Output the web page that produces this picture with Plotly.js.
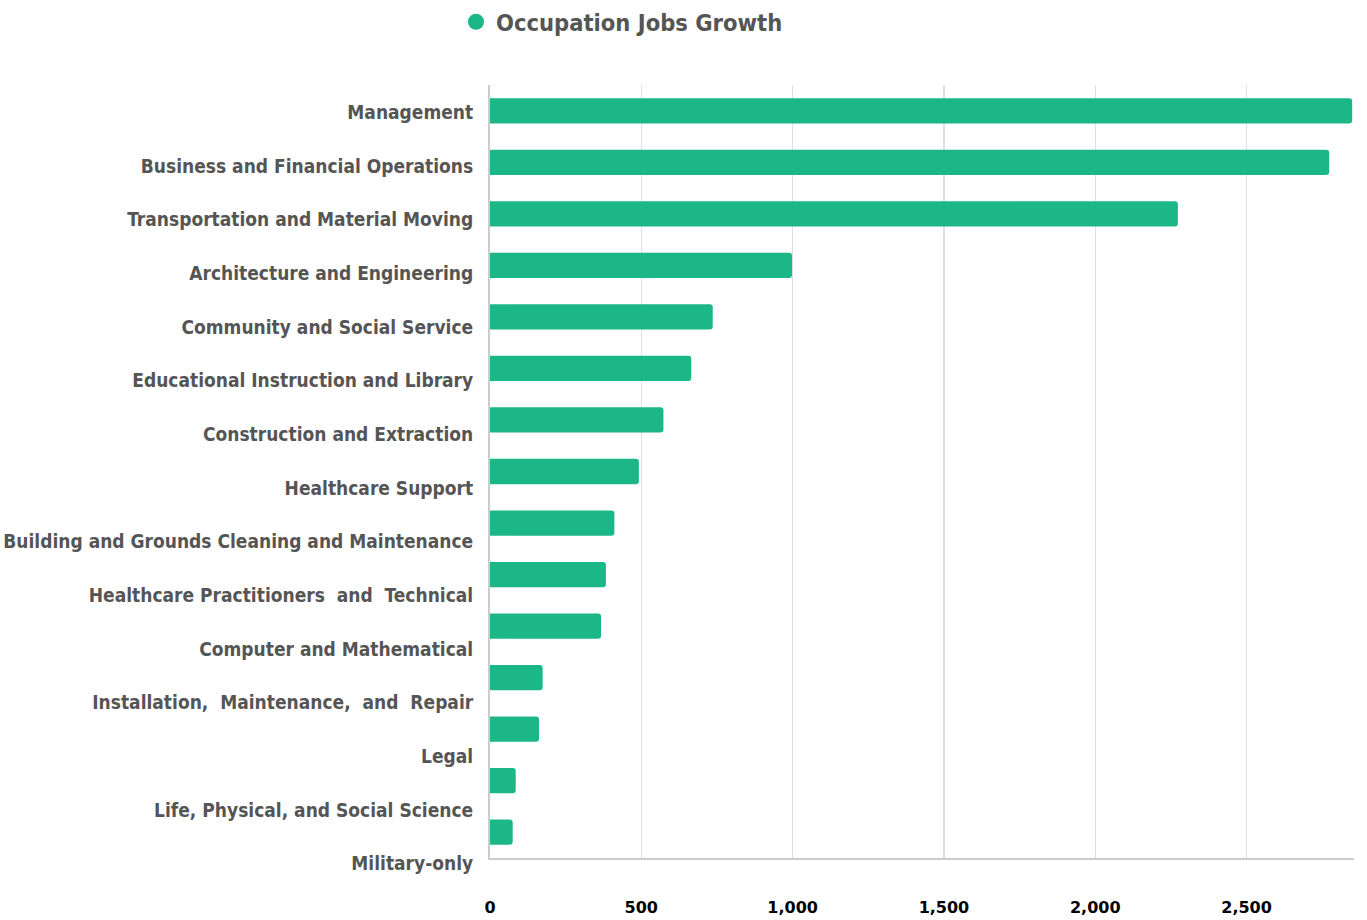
<!DOCTYPE html>
<html>
<head>
<meta charset="utf-8">
<script src="https://cdn.plot.ly/plotly-3.0.1.min.js"></script>
<style>html,body{margin:0;padding:0;background:#fff;}#chart{width:1367px;height:920px;}</style>
</head>
<body>
<div id="chart"></div>
<script>
const categories = [
  "Management",
  "Business and Financial Operations",
  "Transportation and Material Moving",
  "Architecture and Engineering",
  "Community and Social Service",
  "Educational Instruction and Library",
  "Construction and Extraction",
  "Healthcare Support",
  "Building and Grounds Cleaning and Maintenance",
  "Healthcare Practitioners  and  Technical",
  "Computer and Mathematical",
  "Installation,  Maintenance,  and  Repair",
  "Legal",
  "Life, Physical, and Social Science",
  "Military-only"
];
const jobsGrowth = [2849, 2773, 2273, 998, 736, 665, 573, 492, 411, 383, 367, 174, 162, 85, 75];
const seriesName = "Occupation Jobs Growth";
const xTickVals = [0, 500, 1000, 1500, 2000, 2500];

const green = "#1bb786";
const condensed = "DejaVu Sans Condensed, DejaVu Sans, sans-serif";
const plain = "DejaVu Sans, sans-serif";

const bars = {
  type: "bar",
  orientation: "h",
  x: jobsGrowth,
  y: categories,
  xaxis: "x",
  yaxis: "y",
  marker: {color: green, line: {width: 0}},
  width: 0.49,
  showlegend: false,
  hoverinfo: "x+y"
};
// invisible trace carrying the category labels on the label axis
const labels = {
  type: "scatter",
  mode: "markers",
  x: categories.map(() => 0),
  y: categories,
  xaxis: "x2",
  yaxis: "y2",
  marker: {opacity: 0, size: 1},
  showlegend: false,
  hoverinfo: "skip"
};
const legendTrace = {
  type: "scatter",
  mode: "markers",
  x: [null],
  y: [null],
  name: seriesName,
  marker: {color: green, size: 20, symbol: "circle"},
  showlegend: true,
  hoverinfo: "skip"
};

const layout = {
  width: 1367,
  height: 920,
  paper_bgcolor: "#ffffff",
  plot_bgcolor: "rgba(0,0,0,0)",
  margin: {l: 490, r: 13, t: 85, b: 20},
  barcornerradius: 3,
  font: {family: condensed, weight: "bold", color: "#555555"},
  showlegend: true,
  legend: {
    orientation: "h",
    x: 456 / 1367, xref: "container", xanchor: "left",
    y: 1, yref: "container", yanchor: "top",
    font: {family: condensed, size: 23.5, weight: "bold", color: "#555555"},
    bgcolor: "rgba(0,0,0,0)"
  },
  xaxis: {
    domain: [0, 1],
    range: [0, 2855],
    anchor: "y",
    tickvals: xTickVals,
    tickformat: ",d",
    showgrid: true,
    gridcolor: "#e0e0e0",
    gridwidth: 1.5,
    zeroline: false,
    showline: true,
    linecolor: "#cccccc",
    linewidth: 2,
    ticks: "outside",
    ticklen: 34,
    tickcolor: "rgba(0,0,0,0)",
    tickfont: {family: plain, size: 16, weight: "bold", color: "#000000"},
    fixedrange: true
  },
  yaxis: {
    type: "category",
    domain: [42 / 815, 1],
    anchor: "x",
    autorange: "reversed",
    showticklabels: false,
    showgrid: false,
    zeroline: false,
    showline: true,
    linecolor: "#cccccc",
    linewidth: 2,
    ticks: "",
    fixedrange: true
  },
  xaxis2: {
    domain: [0, 1],
    anchor: "y2",
    range: [0, 2855],
    visible: false,
    showgrid: false,
    zeroline: false,
    fixedrange: true
  },
  yaxis2: {
    type: "category",
    domain: [0, 1],
    anchor: "free",
    position: 0,
    side: "left",
    range: [14.68, -0.51],
    showgrid: false,
    zeroline: false,
    showline: false,
    ticks: "outside",
    ticklen: 13,
    tickcolor: "rgba(0,0,0,0)",
    tickfont: {family: condensed, size: 19, weight: "bold", color: "#555555"},
    fixedrange: true
  }
};

Plotly.newPlot("chart", [bars, labels, legendTrace], layout, {displayModeBar: false, staticPlot: true});
</script>
</body>
</html>
